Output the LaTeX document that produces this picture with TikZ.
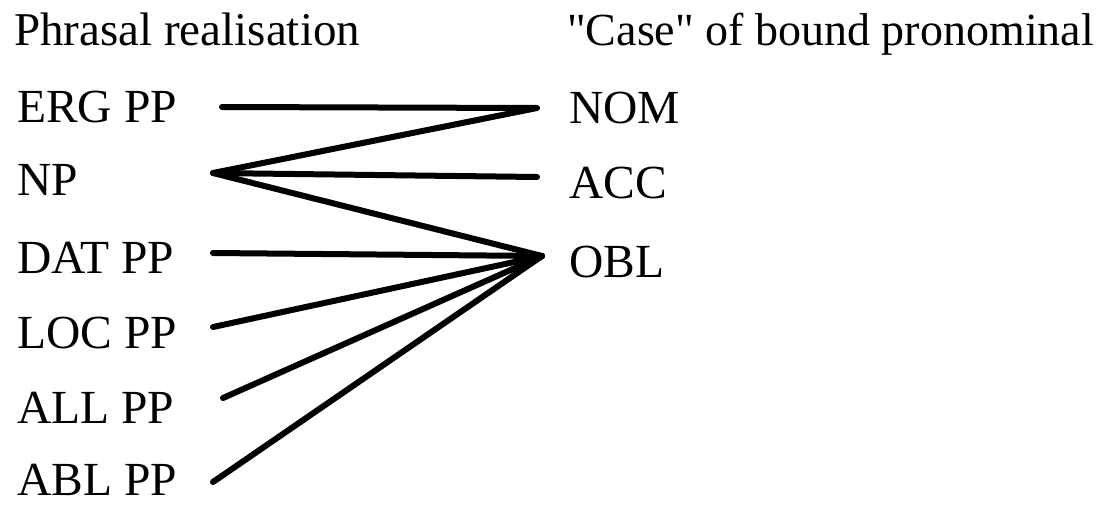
\documentclass[tikz,border=0pt]{standalone}
\usepackage{fontspec}
\setmainfont{Liberation Serif}[Ligatures=TeXOff]
\begin{document}
\begin{tikzpicture}[x=1pt,y=-1pt,
  lbl/.style={anchor=base west,inner sep=0pt,font=\fontsize{47.5}{52}\selectfont},
  link/.style={line width=6pt,line join=round,line cap=round}]
\useasboundingbox (0,0) rectangle (1107,504);
% headers
\node[lbl,font=\fontsize{47}{52}\selectfont] (hl) at (14,45) {Phrasal realisation};
\node[lbl,font=\fontsize{46}{52}\selectfont] (hr) at (567,45) {"Case" of bound pronominal};
% left labels
\node[lbl] (erg) at (17,122) {ERG PP};
\node[lbl] (np)  at (17,195) {NP};
\node[lbl] (dat) at (17,273) {DAT PP};
\node[lbl] (loc) at (17,348) {LOC PP};
\node[lbl] (all) at (17,423) {ALL PP};
\node[lbl] (abl) at (17,495) {ABL PP};
% right labels
\node[lbl] (nom) at (569,123) {NOM};
\node[lbl] (acc) at (569,198) {ACC};
\node[lbl] (obl) at (569,277) {OBL};
% connector points
\coordinate (ergE) at (222,107);
\coordinate (npE)  at (213,173);
\coordinate (datE) at (213,253);
\coordinate (locE) at (213,327);
\coordinate (allE) at (223,398);
\coordinate (ablE) at (213,482);
\coordinate (nomW) at (537,108);
\coordinate (accW) at (537,177);
\coordinate (oblW) at (542,256);
% connectors
\draw[link] (ergE) -- (nomW) -- (npE) -- (oblW);
\draw[link] (npE) -- (accW);
\draw[link] (datE) -- (oblW);
\draw[link] (locE) -- (oblW);
\draw[link] (allE) -- (oblW);
\draw[link] (ablE) -- (oblW);
\end{tikzpicture}
\end{document}
